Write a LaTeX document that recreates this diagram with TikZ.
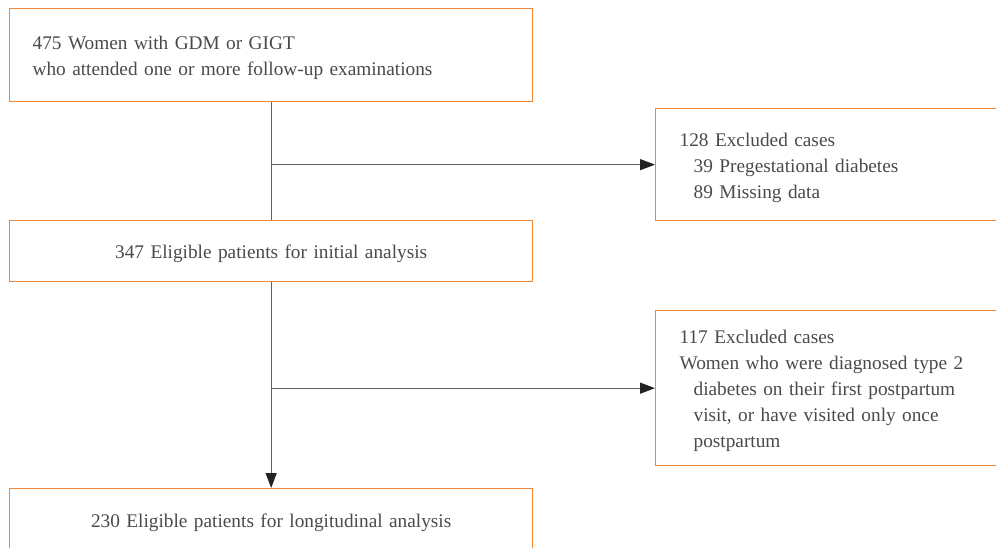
\documentclass[tikz,border=0pt]{standalone}
\usepackage{fontspec}
\setmainfont{Liberation Serif}
\usetikzlibrary{arrows.meta}
\definecolor{boxorange}{HTML}{F0883A}
\definecolor{txtgray}{HTML}{4A4A4A}
\definecolor{linegray}{HTML}{606060}
\definecolor{tipdark}{HTML}{222222}
\newcommand{\tstrut}{\rule{0pt}{19pt}}
\begin{document}
\begin{tikzpicture}[x=1pt,y=-1pt,
  box/.style={draw=boxorange, line width=1.3pt, anchor=north west, inner ysep=0pt,
    text=txtgray, font=\fontsize{19.3}{26}\selectfont},
  conn/.style={draw=linegray, line width=1.3pt},
  arr/.style={conn, -{Triangle[length=15pt,width=11pt,fill=tipdark,color=tipdark]}}]
\useasboundingbox (0,0) rectangle (996,547);
\clip (0,0) rectangle (996,547);
\node[box, inner xsep=23pt, text width=477pt, minimum height=93pt, align=left] (b1) at (9,8)
  {\tstrut 475 Women with GDM or GIGT\\who attended one or more follow-up examinations};
\node[box, inner xsep=23pt, text width=477pt, minimum height=61pt, align=center] (b2) at (9,220)
  {\tstrut 347 Eligible patients for initial analysis};
\node[box, inner xsep=23pt, text width=477pt, minimum height=62pt, align=center] (b3) at (9,488)
  {\tstrut 230 Eligible patients for longitudinal analysis};
\node[box, inner xsep=24pt, text width=340pt, minimum height=112pt, align=left] (e1) at (655,108)
  {\tstrut 128 Excluded cases\\\hspace*{14pt}39 Pregestational diabetes\\\hspace*{14pt}89 Missing data};
\node[box, inner xsep=24pt, text width=340pt, minimum height=155pt, align=left] (e2) at (655,310)
  {\tstrut 117 Excluded cases\\Women who were diagnosed type 2\\\hspace*{14pt}diabetes on their first postpartum\\\hspace*{14pt}visit, or have visited only once\\\hspace*{14pt}postpartum};
\coordinate (j1) at (b1.south |- e1.west);
\coordinate (j2) at (b2.south |- e2.west);
\draw[conn] (b1.south) -- (b2.north);
\draw[arr] (j1) -- (e1.west);
\draw[arr] (b2.south) -- (b3.north);
\draw[arr] (j2) -- (e2.west);
\end{tikzpicture}
\end{document}
